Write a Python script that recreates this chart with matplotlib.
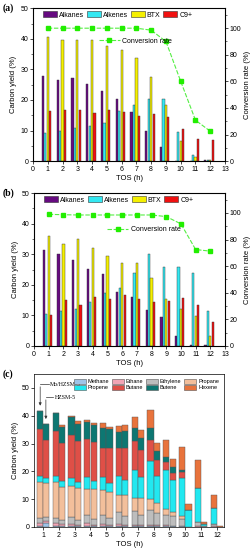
import matplotlib
matplotlib.use('Agg')
import matplotlib.pyplot as plt
import numpy as np
from matplotlib.patches import Patch
from matplotlib.lines import Line2D

plt.rcParams['font.family'] = 'Liberation Sans'
plt.rcParams['font.size'] = 5

tos = [1, 2, 3, 4, 5, 6, 7, 8, 9, 10, 11, 12]

# panel (a) Mo/HZSM-5
alkanes_a = [27.9, 26.7, 27.1, 25.3, 23.0, 20.2, 16.2, 9.8, 4.5, 0.0, 0.0, 0.3]
alkenes_a = [9.3, 9.8, 10.8, 11.5, 12.5, 16.5, 18.4, 20.4, 20.2, 9.5, 2.0, 0.5]
btx_a = [40.5, 39.6, 39.6, 39.5, 37.6, 36.4, 33.8, 27.4, 18.2, 6.5, 1.2, 0.5]
c9_a = [16.4, 16.8, 16.8, 15.9, 16.7, 16.2, 14.7, 15.3, 14.4, 10.5, 7.4, 6.8]
conv_a = [100, 100, 100, 100, 100, 100, 100, 98.5, 90, 60, 30.8, 22.5]

# panel (b) HZSM-5
alkanes_b = [31.5, 30.0, 28.1, 25.2, 23.5, 17.7, 16.0, 11.9, 9.4, 3.2, 0.2, 0.2]
alkenes_b = [10.6, 11.3, 12.1, 14.3, 17.3, 18.8, 23.8, 30.0, 25.8, 25.7, 23.8, 11.5]
btx_b = [35.8, 33.2, 34.9, 31.9, 29.5, 27.0, 27.2, 22.3, 15.3, 12.0, 9.8, 3.4]
c9_b = [10.0, 15.0, 13.3, 16.0, 15.5, 16.5, 15.3, 14.3, 14.7, 15.8, 13.3, 7.7]
conv_b = [99, 98.7, 98.5, 98.5, 98.5, 98.5, 98.5, 98.5, 97.3, 91.8, 72.5, 71.3]

# panel (c) cumulative tops: methane, ethane, ethylene, propane, propene, butane, butene, hexene
gas_names = ['Methane', 'Ethane', 'Ethylene', 'Propane', 'Propene', 'Butane', 'Butene', 'Hexene']
cum_mo = [
    [0.3, 1.3, 3.3, 16.0, 18.3, 35.2, 41.7, 41.7],
    [0.3, 1.5, 3.3, 16.0, 18.4, 34.6, 40.9, 40.9],
    [0.3, 1.2, 3.5, 14.8, 17.5, 33.0, 39.6, 40.0],
    [0.3, 1.3, 4.2, 13.8, 17.9, 31.6, 37.8, 38.3],
    [0.3, 1.0, 4.4, 13.2, 18.1, 28.4, 35.6, 37.2],
    [0.3, 1.0, 5.3, 11.6, 18.3, 28.4, 34.3, 36.4],
    [0.3, 0.8, 5.6, 10.5, 20.6, 30.8, 35.6, 39.7],
    [0.3, 0.8, 6.2, 10.0, 23.8, 31.2, 35.6, 42.0],
    [0.3, 0.7, 4.4, 6.6, 20.3, 23.3, 25.1, 31.3],
    [0.2, 0.5, 2.9, 3.8, 17.7, 19.7, 20.5, 28.8],
    [0.1, 0.3, 1.9, 1.9, 14.0, 14.0, 14.0, 23.9],
    [0.1, 0.2, 1.0, 1.0, 6.9, 6.9, 6.9, 11.6],
]
cum_h = [
    [1.5, 2.2, 3.5, 15.8, 17.7, 31.1, 37.1, 37.1],
    [0.4, 1.0, 2.6, 14.5, 16.4, 30.1, 36.1, 36.6],
    [0.3, 0.8, 2.4, 14.1, 16.3, 31.0, 37.0, 38.0],
    [0.3, 0.8, 2.9, 13.8, 16.4, 30.6, 36.7, 37.2],
    [0.3, 0.8, 3.3, 12.4, 15.9, 28.5, 35.1, 36.1],
    [0.3, 0.7, 3.8, 11.6, 16.7, 28.4, 34.5, 36.5],
    [0.3, 0.7, 4.4, 10.3, 17.9, 27.6, 31.9, 34.8],
    [0.3, 0.6, 5.0, 8.6, 18.4, 24.2, 27.3, 30.1],
    [0.2, 0.5, 3.8, 5.3, 16.7, 19.4, 21.5, 24.5],
    [0.0, 0.0, 0.0, 0.0, 6.1, 6.1, 6.1, 8.3],
    [0.0, 0.1, 0.5, 0.5, 1.2, 1.2, 1.2, 1.9],
    [0.0, 0.0, 0.1, 0.1, 0.1, 0.1, 0.1, 0.5],
]

prod_colors = ['#660a80', '#33e8f2', '#f5f000', '#f01010']
prod_labels = ['Alkanes', 'Alkenes', 'BTX', 'C9+']
gas_colors = ['#9fc4e8', '#f2a5b5', '#bdbdbd', '#f3bf9b', '#22e8f0', '#df4f47', '#0d7772', '#e8733c']

fig = plt.figure(figsize=(2.52, 5.5), dpi=100)


def yield_panel(rect, series, conv):
    ax = fig.add_axes(rect)
    x = np.array(tos)
    offs = [-0.33, -0.165, 0.0, 0.165]
    for s, c, o in zip(series, prod_colors, offs):
        ax.bar(x + o, s, 0.15, color=c, edgecolor='#333333', linewidth=0.3)
    ax.set_xlim(0, 13)
    ax.set_ylim(0, 50)
    ax.set_xticks(range(0, 14))
    ax.set_yticks(range(0, 51, 10))
    ax.set_yticks(range(5, 50, 10), minor=True)
    ax.tick_params(labelsize=5, length=2, width=0.5, pad=1.5)
    ax.tick_params(which='minor', length=1.2, width=0.4)
    ax.set_xlabel('TOS (h)', fontsize=5.5, labelpad=1.5)
    ax.set_ylabel('Carbon yield (%)', fontsize=5.5, labelpad=2)
    for sp in ax.spines.values():
        sp.set_linewidth(0.5)
    ax2 = ax.twinx()
    ax2.plot(x, conv, color='#55ee44', lw=0.8, marker='s', ms=3,
             mfc='#22ee00', mec='#22ee00', dashes=(4, 1.5))
    ax2.set_ylim(0, 115)
    ax2.set_yticks(range(0, 101, 20))
    ax2.set_yticks(range(10, 111, 20), minor=True)
    ax2.tick_params(labelsize=5, length=2, width=0.5, pad=1.5)
    ax2.tick_params(which='minor', length=1.2, width=0.4)
    ax2.set_ylabel('Conversion rate (%)', fontsize=5.5, labelpad=2)
    handles = [Patch(facecolor=c, edgecolor='#333333', linewidth=0.4) for c in prod_colors]
    ax.legend(handles, prod_labels, ncol=4, loc='upper left', bbox_to_anchor=(0.02, 1.02),
              frameon=False, fontsize=5, handlelength=2.0, handleheight=0.9,
              columnspacing=0.4, handletextpad=0.3)
    return ax, ax2


ax_a, ax_a2 = yield_panel([0.131, 0.707, 0.762, 0.278],
                          [alkanes_a, alkenes_a, btx_a, c9_a], conv_a)
ax_a2.legend([Line2D([], [], color='#55ee44', lw=0.8, marker='s', ms=3, mfc='#22ee00',
                     mec='#22ee00', dashes=(4, 1.5))], ['Conversion rate'],
             loc='center left', bbox_to_anchor=(0.31, 0.785), frameon=False, fontsize=5,
             handlelength=3, handletextpad=0.4)

ax_b, ax_b2 = yield_panel([0.135, 0.371, 0.758, 0.278],
                          [alkanes_b, alkenes_b, btx_b, c9_b], conv_b)
ax_b2.legend([Line2D([], [], color='#55ee44', lw=0.8, marker='s', ms=3, mfc='#22ee00',
                     mec='#22ee00', dashes=(4, 1.5))], ['Conversion rate'],
             loc='center left', bbox_to_anchor=(0.35, 0.76), frameon=False, fontsize=5,
             handlelength=3, handletextpad=0.4)

# panel (c) stacked bars
ax_c = fig.add_axes([0.135, 0.042, 0.754, 0.278])
x = np.array(tos)
for pos, cum in ((x - 0.2, cum_mo), (x + 0.2, cum_h)):
    cum = np.array(cum)
    bottom = np.zeros(len(tos))
    for k in range(len(gas_names)):
        h = cum[:, k] - bottom
        ax_c.bar(pos, h, 0.39, bottom=bottom, color=gas_colors[k],
                 edgecolor='#555555', linewidth=0.3)
        bottom = cum[:, k]
ax_c.set_xlim(0.43, 12.45)
ax_c.set_ylim(0, 55)
ax_c.set_xticks(tos)
ax_c.set_yticks(range(0, 51, 10))
ax_c.tick_params(labelsize=5, length=2, width=0.5, pad=1.5)
ax_c.set_xlabel('TOS (h)', fontsize=5.5, labelpad=1.5)
ax_c.set_ylabel('Carbon yield (%)', fontsize=5.5, labelpad=2)
for sp in ax_c.spines.values():
    sp.set_linewidth(0.5)

order = [0, 4, 1, 5, 2, 6, 3, 7]
handles = [Patch(facecolor=gas_colors[i], edgecolor='#555555', linewidth=0.4) for i in order]
ax_c.legend(handles, [gas_names[i] for i in order], ncol=4, loc='upper right',
            bbox_to_anchor=(1.0, 1.0), frameon=False, fontsize=4, handlelength=2.2,
            handleheight=0.9, columnspacing=0.5, handletextpad=0.3, labelspacing=0.15)

ax_c.annotate('', xy=(0.82, 42.6), xytext=(0.82, 51.4),
              arrowprops=dict(arrowstyle='-|>', lw=0.5, color='#333333', mutation_scale=4))
ax_c.plot([0.82, 1.35], [51.4, 51.4], color='#333333', lw=0.5)
ax_c.text(1.45, 51.4, 'Mo/HZSM-5', fontsize=4.2, va='center', family='Liberation Serif')
ax_c.annotate('', xy=(1.18, 37.8), xytext=(1.18, 46.7),
              arrowprops=dict(arrowstyle='-|>', lw=0.5, color='#333333', mutation_scale=4))
ax_c.plot([1.18, 1.65], [46.7, 46.7], color='#333333', lw=0.5)
ax_c.text(1.75, 46.7, 'HZSM-5', fontsize=4.2, va='center', family='Liberation Serif')

for tag, yy in (('(a)', 0.985), ('(b)', 0.649), ('(c)', 0.32)):
    fig.text(0.01, yy, tag, fontsize=7, fontweight='bold', family='Liberation Serif',
             va='center', ha='left')

fig.savefig('out.png', dpi=100)
